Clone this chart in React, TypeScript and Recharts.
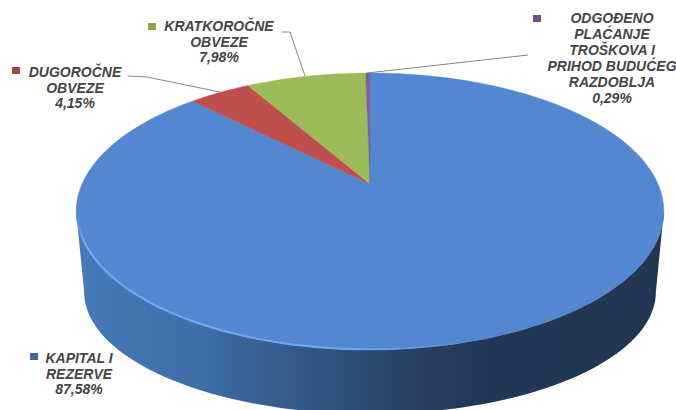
import React from "react";
import { PieChart, Pie, Cell } from "recharts";

const categories = ["KAPITAL I REZERVE", "DUGOROČNE OBVEZE", "KRATKOROČNE OBVEZE", "ODGOĐENO PLAĆANJE TROŠKOVA I PRIHOD BUDUĆEG RAZDOBLJA"];
const shares = [87.58, 4.15, 7.98, 0.29];
const labelLines = [
  ["KAPITAL I", "REZERVE"],
  ["DUGOROČNE", "OBVEZE"],
  ["KRATKOROČNE", "OBVEZE"],
  ["ODGOĐENO", "PLAĆANJE", "TROŠKOVA I", "PRIHOD BUDUĆEG", "RAZDOBLJA"],
];
const colors = ["#5487D1", "#BE4F4C", "#9BBB59", "#7D60A0"];
const keyColors = ["#41699B", "#A84442", "#8BA84F", "#6B5288"];

const data = categories.map((name, i) => ({ name, value: shares[i] }));

// label placement: text centre, first baseline, line step, legend key, leader line
const layout = [
  { x: 79, y: 363, step: 15.5, key: [30, 353], leader: null },
  { x: 75, y: 77, step: 15.5, key: [12, 67], leader: "128,76 147,77 220,92" },
  { x: 219, y: 31, step: 15.5, key: [148, 23], leader: "282,32 290,32 305,76" },
  { x: 612, y: 23, step: 15.9, key: [533, 15], leader: "528,55 367,73" },
];

const CX = 370, CY = 184, R = 288;
const K = 0.1985, RY = 133 / 288;
const TOP_CY = 211.5, TOP_RX = 294, TOP_RY = 138.5;
const BOT_CX = 370, BOT_CY = 292, BOT_RX = 286, BOT_RY = 122;

const project = (deg: number, cx: number, cy: number, r: number) => {
  const a = (deg * Math.PI) / 180;
  const u = Math.cos(a), v = Math.sin(a);
  const w = 1 + K * v;
  return [cx + (r * u) / w, cy - (r * RY * v) / w];
};
const toBottom = (p: number[]) => [
  BOT_CX + (BOT_RX * (p[0] - CX)) / TOP_RX,
  BOT_CY + (BOT_RY * (p[1] - TOP_CY)) / TOP_RY,
];
const sample = (from: number, to: number) => {
  const n = Math.max(2, Math.ceil(Math.abs(to - from) / 1.5));
  return Array.from({ length: n + 1 }, (_, i) => from + ((to - from) * i) / n);
};
const pts = (list: number[][]) => list.map((p) => `${p[0].toFixed(2)},${p[1].toFixed(2)}`).join(" L");

const TopSector = (props: any) => {
  const { cx, cy, outerRadius, startAngle, endAngle, fill } = props;
  const arc = sample(startAngle, endAngle).map((d) => project(d, cx, cy, outerRadius));
  return <path d={`M${cx},${cy} L${pts(arc)} Z`} fill={fill} stroke={fill} strokeWidth={0.4} />;
};

const RIGHT_EXTREME = -11.4, LEFT_EXTREME = -168.6;
const WallSector = (props: any) => {
  const { cx, cy, outerRadius, startAngle, endAngle } = props;
  const from = Math.min(startAngle, RIGHT_EXTREME);
  const to = Math.max(endAngle, LEFT_EXTREME);
  if (from <= to) return null;
  const top = sample(from, to).map((d) => project(d, cx, cy, outerRadius));
  const bottom = top.map(toBottom).reverse();
  const rim = sample(LEFT_EXTREME, -70).map((d) => project(d, cx, cy, outerRadius - 1));
  return (
    <g>
      <defs>
        <linearGradient id="wallGrad" gradientUnits="userSpaceOnUse" x1={84} y1={0} x2={656} y2={0}>
          <stop offset="0" stopColor="#4579B8" />
          <stop offset="0.2" stopColor="#3F6EA8" />
          <stop offset="0.45" stopColor="#2F5079" />
          <stop offset="0.6" stopColor="#263E60" />
          <stop offset="0.7" stopColor="#223756" />
          <stop offset="1" stopColor="#223654" />
        </linearGradient>
        <linearGradient id="rimGrad" gradientUnits="userSpaceOnUse" x1={76} y1={0} x2={470} y2={0}>
          <stop offset="0" stopColor="#6FA8F2" stopOpacity={0} />
          <stop offset="0.02" stopColor="#6FA8F2" />
          <stop offset="0.7" stopColor="#6FA8F2" />
          <stop offset="1" stopColor="#6FA8F2" stopOpacity={0} />
        </linearGradient>
      </defs>
      <path d={`M${pts(top)} L${pts(bottom)} Z`} fill="url(#wallGrad)" />
      <path d={`M${pts(rim)}`} fill="none" stroke="url(#rimGrad)" strokeWidth={2} />
    </g>
  );
};

const TopRim = () => null;

const SliceLabel = (props: any) => {
  const { index, value } = props;
  const l = layout[index];
  const lines = labelLines[index];
  const textStyle: React.CSSProperties = {
    fontFamily: "'Liberation Sans', Arial, sans-serif",
    fontSize: 14,
    fontStyle: "italic",
    fontWeight: 700,
    fill: "#454545",
  };
  return (
    <g>
      {l.leader && <polyline points={l.leader} fill="none" stroke="#868686" strokeWidth={1} />}
      <rect x={l.key[0]} y={l.key[1]} width={8} height={7} fill={keyColors[index]} />
      <text textAnchor="middle" style={textStyle}>
        {lines.map((t, i) => (
          <tspan key={t} x={l.x} y={l.y + i * l.step}>{t}</tspan>
        ))}
        <tspan x={l.x} y={l.y + lines.length * l.step}>{value.toFixed(2).replace(".", ",") + "%"}</tspan>
      </text>
    </g>
  );
};

export default function App() {
  return (
    <div style={{ position: "absolute", left: 0, top: 0, width: 676, height: 410, overflow: "hidden", background: "#fff" }}>
      <PieChart width={676} height={410} margin={{ top: 0, right: 0, bottom: 0, left: 0 }}>
        <Pie
          data={data}
          dataKey="value"
          nameKey="name"
          cx={CX}
          cy={CY}
          innerRadius={0}
          outerRadius={R}
          startAngle={90}
          endAngle={-270}
          stroke="none"
          paddingAngle={0}
          shape={TopSector}
          label={SliceLabel}
          labelLine={false}
          isAnimationActive={false}
        >
          {data.map((d, i) => <Cell key={d.name} fill={colors[i]} />)}
        </Pie>
        <Pie
          data={data}
          dataKey="value"
          nameKey="name"
          cx={CX}
          cy={CY}
          innerRadius={0}
          outerRadius={R}
          startAngle={90}
          endAngle={-270}
          stroke="none"
          paddingAngle={0}
          shape={WallSector}
          label={false}
          labelLine={false}
          isAnimationActive={false}
        >
          {data.map((d, i) => <Cell key={d.name} fill={colors[i]} />)}
        </Pie>
      </PieChart>
    </div>
  );
}
